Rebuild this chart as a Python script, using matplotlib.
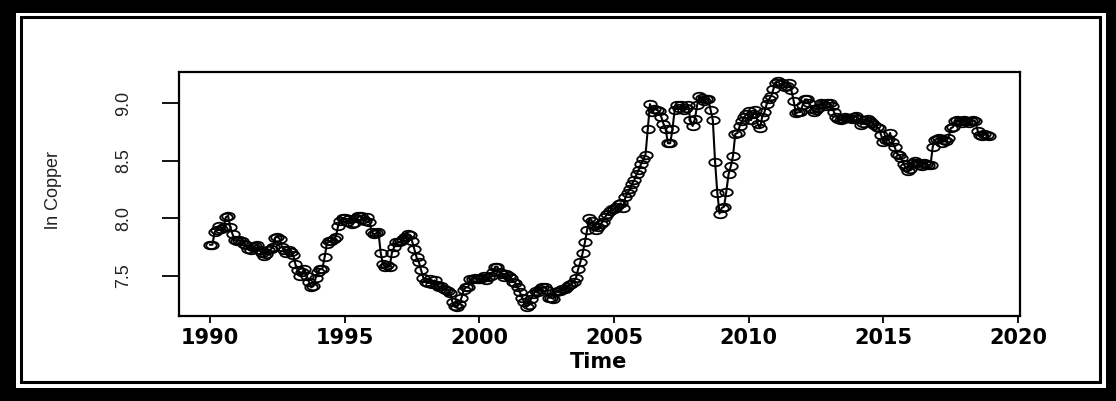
import numpy as np
import matplotlib
matplotlib.use("Agg")
import matplotlib.pyplot as plt
from matplotlib.path import Path
from matplotlib.transforms import Affine2D
from matplotlib.patches import Rectangle

# monthly log copper price, Jan 1990 .. Dec 2018
start_year = 1990
freq = 12
ln_copper = [
    7.77, 7.77, 7.88, 7.90, 7.93, 7.91, 7.92, 8.01, 8.02, 7.92, 7.86, 7.81,  # 1990
    7.80, 7.81, 7.80, 7.78, 7.77, 7.73, 7.72, 7.75, 7.76, 7.77, 7.72, 7.70,  # 1991
    7.67, 7.69, 7.72, 7.73, 7.75, 7.83, 7.84, 7.82, 7.75, 7.72, 7.70, 7.72,  # 1992
    7.71, 7.68, 7.60, 7.55, 7.50, 7.53, 7.56, 7.50, 7.45, 7.40, 7.41, 7.48,  # 1993
    7.53, 7.56, 7.56, 7.66, 7.78, 7.80, 7.80, 7.82, 7.84, 7.93, 7.98, 8.00,  # 1994
    8.00, 7.97, 7.99, 7.95, 7.96, 8.00, 8.02, 8.02, 7.99, 7.98, 8.01, 7.97,  # 1995
    7.88, 7.86, 7.87, 7.88, 7.70, 7.60, 7.58, 7.59, 7.58, 7.70, 7.75, 7.79,  # 1996
    7.79, 7.80, 7.82, 7.84, 7.86, 7.85, 7.80, 7.73, 7.66, 7.62, 7.55, 7.48,  # 1997
    7.45, 7.44, 7.47, 7.43, 7.46, 7.42, 7.40, 7.41, 7.39, 7.38, 7.37, 7.35,  # 1998
    7.27, 7.24, 7.23, 7.26, 7.31, 7.38, 7.40, 7.40, 7.47, 7.47, 7.48, 7.47,  # 1999
    7.47, 7.48, 7.50, 7.46, 7.49, 7.50, 7.53, 7.58, 7.58, 7.53, 7.52, 7.49,  # 2000
    7.52, 7.50, 7.48, 7.45, 7.44, 7.40, 7.36, 7.31, 7.27, 7.23, 7.25, 7.30,  # 2001
    7.34, 7.37, 7.36, 7.39, 7.40, 7.40, 7.38, 7.31, 7.31, 7.30, 7.36, 7.37,  # 2002
    7.37, 7.39, 7.39, 7.40, 7.42, 7.43, 7.45, 7.48, 7.56, 7.62, 7.70, 7.79,  # 2003
    7.90, 8.00, 7.98, 7.93, 7.90, 7.92, 7.95, 7.97, 8.01, 8.04, 8.06, 8.08,  # 2004
    8.08, 8.10, 8.12, 8.13, 8.09, 8.18, 8.22, 8.25, 8.30, 8.33, 8.38, 8.42,  # 2005
    8.47, 8.51, 8.55, 8.77, 8.99, 8.92, 8.95, 8.94, 8.93, 8.88, 8.82, 8.77,  # 2006
    8.65, 8.65, 8.77, 8.94, 8.98, 8.96, 8.98, 8.94, 8.96, 8.98, 8.85, 8.80,  # 2007
    8.86, 8.98, 9.06, 9.04, 9.02, 9.03, 9.03, 8.94, 8.85, 8.49, 8.22, 8.04,  # 2008
    8.09, 8.10, 8.23, 8.38, 8.45, 8.54, 8.73, 8.74, 8.80, 8.84, 8.88, 8.90,  # 2009
    8.93, 8.85, 8.90, 8.94, 8.82, 8.78, 8.88, 8.92, 8.99, 9.03, 9.06, 9.12,  # 2010
    9.17, 9.19, 9.16, 9.17, 9.14, 9.15, 9.17, 9.11, 9.02, 8.91, 8.92, 8.92,  # 2011
    8.98, 9.03, 9.03, 9.00, 8.95, 8.92, 8.94, 8.96, 9.00, 8.99, 8.97, 9.00,  # 2012
    9.00, 8.97, 8.92, 8.88, 8.86, 8.85, 8.86, 8.88, 8.87, 8.87, 8.86, 8.88,  # 2013
    8.89, 8.86, 8.81, 8.83, 8.85, 8.86, 8.84, 8.83, 8.81, 8.79, 8.78, 8.72,  # 2014
    8.66, 8.68, 8.69, 8.74, 8.66, 8.62, 8.56, 8.55, 8.52, 8.47, 8.44, 8.41,  # 2015
    8.43, 8.48, 8.50, 8.48, 8.46, 8.45, 8.48, 8.47, 8.46, 8.46, 8.62, 8.68,  # 2016
    8.69, 8.70, 8.65, 8.68, 8.67, 8.70, 8.78, 8.79, 8.84, 8.85, 8.84, 8.83,  # 2017
    8.85, 8.84, 8.83, 8.84, 8.85, 8.84, 8.76, 8.72, 8.71, 8.73, 8.72, 8.71,  # 2018
]
x_ticks = [1990, 1995, 2000, 2005, 2010, 2015, 2020]
y_ticks = [7.5, 8.0, 8.5, 9.0]
y_tick_labels = ["7.5", "8.0", "8.5", "9.0"]

W, H = 1116, 401
time = start_year + np.arange(len(ln_copper)) / freq


def fr(x0, y0, x1, y1):
    # pixel box (top-left origin) -> figure fraction rect
    return (x0 / W, 1 - y1 / H), (x1 - x0) / W, (y1 - y0) / H


fig = plt.figure(figsize=(W / 100, H / 100), dpi=100)
fig.patch.set_facecolor("white")

# thick black frame + thin inner frame
fig.add_artist(Rectangle((0, 0), 1, 1, transform=fig.transFigure,
                         facecolor="black", edgecolor="none", zorder=0))
xy, w, h = fr(16, 13, 1106, 388)
fig.add_artist(Rectangle(xy, w, h, transform=fig.transFigure,
                         facecolor="white", edgecolor="none", zorder=0))
xy, w, h = fr(21, 17, 1100, 382)
fig.add_artist(Rectangle(xy, w, h, transform=fig.transFigure,
                         facecolor="white", edgecolor="black", lw=2.2, zorder=0))

ax = fig.add_axes([179 / W, (H - 316) / H, 841 / W, 244 / H])
ax.set_facecolor("none")

# R draws circles; the picture is stretched sideways so they are ellipses
ell = Path.unit_circle().transformed(Affine2D().scale(1.0, 0.6))
ax.plot(time, ln_copper, color="black", lw=1.5,
        marker=ell, markersize=9, mfc="none", mec="black", mew=1.3)

ax.margins(0.04)
ax.set_xticks(x_ticks)
ax.set_xticklabels([str(t) for t in x_ticks], fontsize=15,
                   fontweight="bold", family="DejaVu Sans")
ax.set_yticks(y_ticks)
ax.set_yticklabels(y_tick_labels, rotation=90, va="center",
                   fontsize=13, family="Liberation Sans", color="#222222")
ax.tick_params(axis="x", direction="out", length=5, width=1.3, pad=4)
ax.tick_params(axis="y", direction="out", length=12, width=1.3, pad=22)
for s in ax.spines.values():
    s.set_linewidth(1.6)

fig.text(599 / W, 1 - 362 / H, "Time", ha="center", va="center",
         fontsize=15, fontweight="bold", family="DejaVu Sans")
fig.text(53 / W, 1 - 190 / H, "ln Copper", ha="center", va="center",
         rotation=90, fontsize=13, family="Liberation Sans", color="#222222")

fig.savefig("out.png", dpi=100)
